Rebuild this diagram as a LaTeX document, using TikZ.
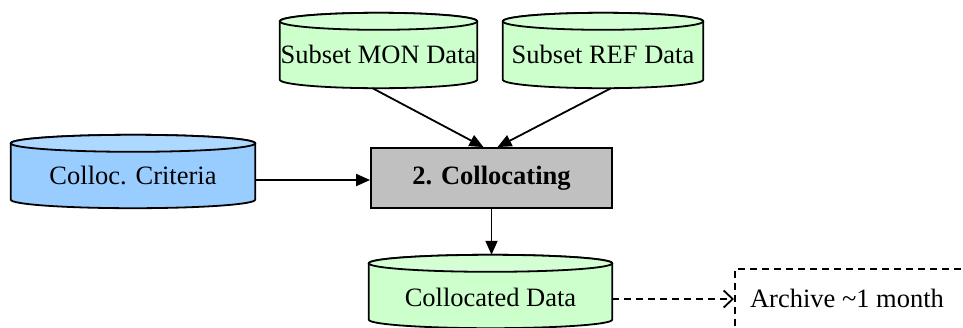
\documentclass[tikz,border=0pt]{standalone}
\usepackage{fontspec}
\setmainfont{Liberation Serif}
\newfontfamily\diagfont{Liberation Serif}
\usetikzlibrary{arrows.meta,calc,backgrounds}
\definecolor{cylgreen}{HTML}{CCFFCC}
\definecolor{cylgreentop}{HTML}{D4FFD4}
\definecolor{cylblue}{HTML}{99CCFF}
\definecolor{cylbluetop}{HTML}{ADD8FF}
\definecolor{procgray}{HTML}{C0C0C0}
\newcommand{\drawcylinder}[3]{%
  \path let \p1=(#1.north west), \p2=(#1.south east), \n1={(\x2-\x1)/2} in
    [draw=black, line width=1.8pt, fill=#2, line join=round]
    (\x1,\y1-8.5pt) -- (\x1,\y2+8.5pt)
    arc[start angle=180, end angle=360, x radius=\n1, y radius=8.5pt]
    -- (\x2,\y1-8.5pt)
    arc[start angle=0, end angle=180, x radius=\n1, y radius=8.5pt] -- cycle;
  \path let \p1=(#1.north west), \p2=(#1.south east), \n1={(\x2-\x1)/2} in
    [draw=black, line width=1.8pt, fill=#3]
    (\x1+\n1,\y1-8.5pt) ellipse[x radius=\n1, y radius=8.5pt];
}
\begin{document}
\begin{tikzpicture}[x=1pt,y=-1pt,
  cyl/.style={rectangle, draw=none, inner sep=0pt},
  lbl/.style={font=\diagfont\fontsize{26.5}{30}\selectfont, inner sep=0pt},
  proc/.style={rectangle, draw, line width=1.8pt, fill=procgray, inner sep=0pt,
    font=\diagfont\bfseries\fontsize{26.5}{30}\selectfont},
  arr/.style={line width=1.8pt, -{Triangle[length=14pt,width=12pt]}},
  darr/.style={line width=1.8pt, dash pattern=on 7pt off 5pt,
    -{Straight Barb[length=9pt,width=17pt,line width=1.8pt]}},
  archstyle/.style={rectangle, draw, line width=1.8pt, dash pattern=on 7pt off 5pt, inner sep=0pt}
  ]
\useasboundingbox (0,0) rectangle (963,327);

% cylinder outlines (named nodes for anchors)
\node[cyl, minimum width=197pt, minimum height=75pt] (mon) at (378.5,50.5) {};
\node[cyl, minimum width=200pt, minimum height=75pt] (ref) at (603,50.5) {};
\node[cyl, minimum width=244pt, minimum height=73pt] (crit) at (133,171.5) {};
\node[cyl, minimum width=243pt, minimum height=73pt] (coll) at (490.5,291.5) {};

\begin{scope}[on background layer]
  \drawcylinder{mon}{cylgreen}{cylgreentop}
  \drawcylinder{ref}{cylgreen}{cylgreentop}
  \drawcylinder{crit}{cylblue}{cylbluetop}
  \drawcylinder{coll}{cylgreen}{cylgreentop}
\end{scope}

% texts
\node[lbl] (montxt) at ([yshift=-3.5pt]mon.center) {Subset MON Data};
\node[lbl] (reftxt) at ([yshift=-3.5pt]ref.center) {Subset REF Data};
\node[lbl] (crittxt) at ([yshift=-4pt]crit.center) {Colloc. Criteria};
\node[lbl] (colltxt) at ([yshift=-5.5pt]coll.center) {Collocated Data};

% process box
\node[proc, minimum width=241pt, minimum height=60pt] (box) at (491.5,178) {2. Collocating};

% archive box
\node[archstyle, anchor=north west, minimum width=260pt, minimum height=90pt] (archbox) at (734,268) {};
\node[lbl] (archtxt) at (847,298) {Archive \textasciitilde 1 month};

% connectors
\draw[arr] ([xshift=-6pt]mon.south) -- ([xshift=-8pt]box.north);
\draw[arr] ([xshift=8pt]ref.south) -- ([xshift=6pt]box.north);
\draw[arr] ([yshift=-8.5pt]crit.east) -- ([yshift=-8.5pt]crit.east -| box.west);
\draw[arr] (box.south) -- (box.south |- coll.north);
\draw[darr] ([yshift=-7.5pt]coll.east) -- ([yshift=-7.5pt]coll.east -| archbox.west);
\end{tikzpicture}
\end{document}
